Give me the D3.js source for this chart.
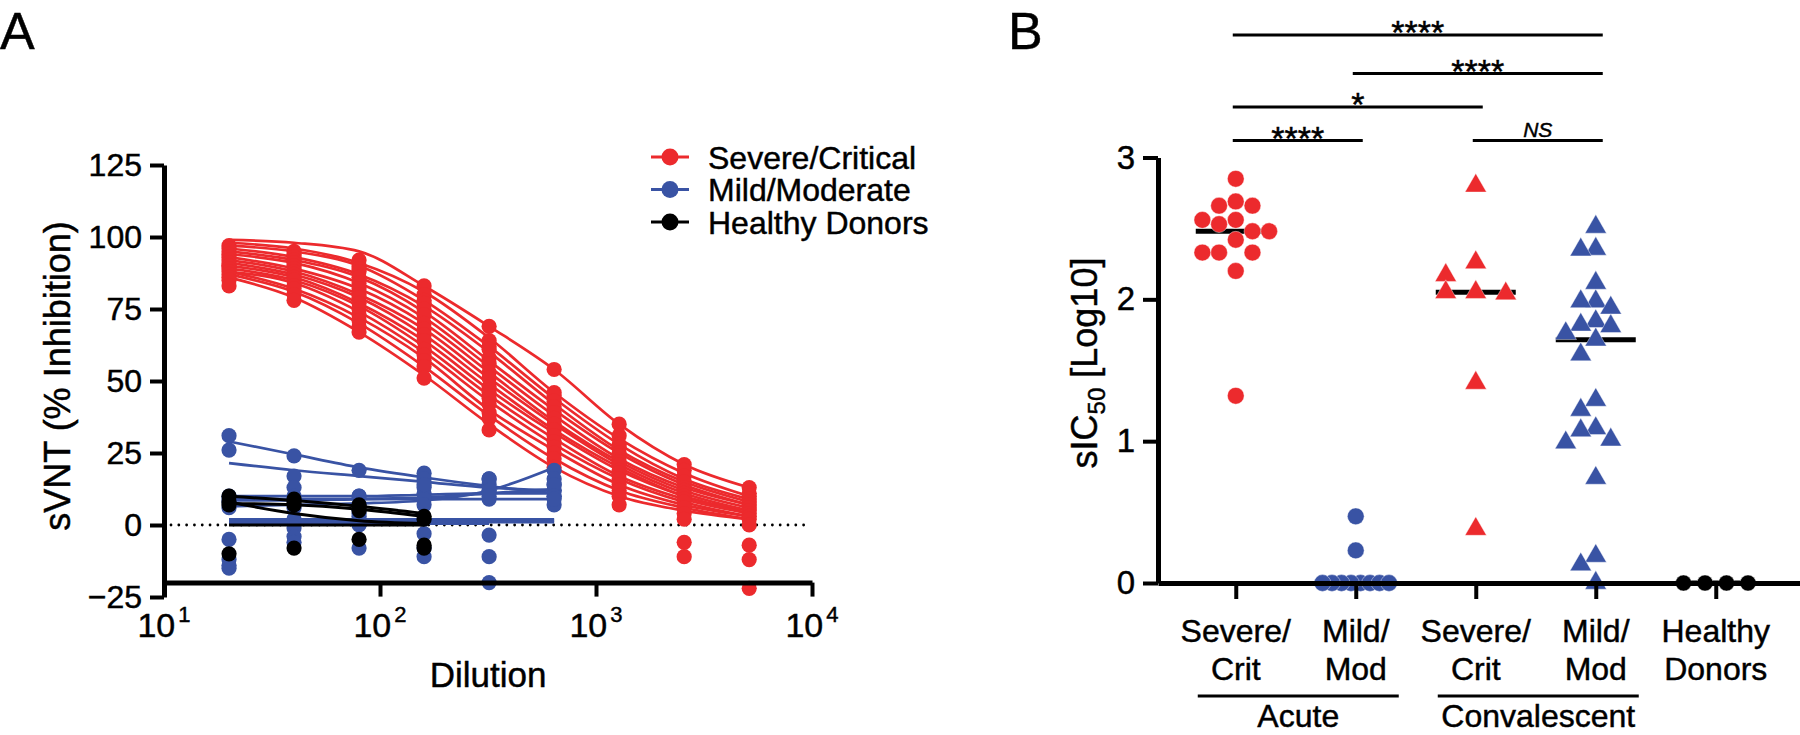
<!DOCTYPE html>
<html><head><meta charset="utf-8">
<script src="https://cdn.jsdelivr.net/npm/d3@7"></script>
<style>
html,body{margin:0;padding:0;background:#fff;}
svg text{font-family:"Liberation Sans",Arial,Helvetica,sans-serif;fill:#000;stroke:#000;stroke-width:0.45px;}
</style></head><body>
<svg id="chart" width="1800" height="735"></svg>
<script>
// ================= Panel A data =================
const dilutions = [20, 40, 80, 160, 320, 640, 1280, 2560, 5120];
const xTickExponents = [1, 2, 3, 4];
const yTicksA = [125, 100, 75, 50, 25, 0, -25];
const legendLabels = ["Severe/Critical", "Mild/Moderate", "Healthy Donors"];

// fitted curves (values at each dilution) – Severe/Critical
const severeFit = [
  [99, 98, 95, 83, 69, 54, 35, 21, 13],
  [98, 96, 91, 81, 65, 46, 30, 18, 10],
  [97, 95, 90, 78, 62, 44, 28, 16, 9],
  [96, 93, 87, 76, 60, 42, 26, 15, 8],
  [95, 92, 86, 74, 57, 40, 25, 14, 7],
  [94, 91, 84, 72, 55, 38, 23, 13, 7],
  [93, 89, 82, 70, 53, 36, 22, 12, 6],
  [92, 88, 80, 68, 51, 35, 21, 11, 5],
  [91, 87, 79, 66, 49, 33, 20, 10, 5],
  [90, 86, 77, 64, 47, 32, 19, 10, 4],
  [89, 85, 76, 62, 45, 30, 17, 9, 4],
  [88, 84, 74, 60, 43, 28, 16, 8, 3],
  [88, 82, 72, 58, 40, 26, 14, 7, 3],
  [87, 81, 70, 55, 38, 23, 12, 6, 2],
  [86, 79, 67, 52, 35, 20, 10, 5, 2]
];
// measured points – Severe/Critical
const severePts = [
  [97, 95, 92, 83, 69, 54, 35, 21, 13],
  [96, 94, 90, 80, 64, 46, 31, 19, 11],
  [95, 93, 89, 78, 62, 45, 28, 17, 10],
  [94, 92, 88, 77, 61, 43, 27, 15, 9],
  [93, 91, 86, 75, 58, 41, 25, 13, 8],
  [92, 90, 84, 73, 56, 39, 24, 12, 7],
  [91, 89, 82, 70, 53, 37, 22, 11, 6],
  [90, 88, 80, 68, 51, 35, 21, 10, 5],
  [90, 87, 79, 66, 48, 33, 19, 9, 4],
  [89, 86, 77, 64, 46, 31, 18, 8, 3],
  [88, 85, 75, 61, 44, 29, 16, 6, 2],
  [87, 83, 73, 59, 42, 27, 14, 4, 0],
  [86, 82, 71, 57, 39, 25, 12, 2, -7],
  [85, 80, 69, 55, 37, 23, 10, -6, -12],
  [83, 78, 67, 51, 33, 20, 7, -11, -22]
];
// Mild/Moderate (dilutions 20..640)
const mildFit = [
  [29, 24.5, 20, 16.5, 13.5, 11],
  [21.5, 19, 17, 15, 13, 12],
  [10, 10, 10, 10.5, 11, 11],
  [6.5, 7, 7.5, 8.5, 12, 20],
  [8.5, 8.5, 9, 9.5, 11, 12.5],
  [2, 2, 2, 2, 2, 2],
  [1.5, 1.5, 1.5, 1.5, 1.5, 1.5],
  [0.5, 0.5, 0.5, 0.5, 0.5],
  [1, 1, 1, 1, 1, 1],
  [9, 9, 9, 9, 9, 9]
];
const mildPts = [
  [31, 24, 19, 18, 16, 14],
  [26, 17, 10, 16, 14, 12],
  [10, 13, 10, 13, 12, 10],
  [8, 10, 7, 11, 9, 19],
  [6, 9, 4, 9, 16, 16],
  [-5, 2, 2, 7, 12, 7],
  [-12, -1, -8, -3, -3.5, 12],
  [-15, -4, 0, -8, -11, 14],
  [-14, -6, 5, -11, -20, 10],
  [9, 6, 3, 14, 10, 9]
];
// Healthy donors (dilutions 20..160)
const healthyFit = [
  [10, 8.5, 6.5, 4],
  [8, 4, 1.5, 0.5],
  [0, 0, 0, 0],
  [7.5, 7, 5.5, 3]
];
const healthyPts = [
  [10, 8, 7, 3],
  [8, 7, 6, -7],
  [-10, -8, -5, -8],
  [7, 9, 5, 2]
];

// ================= Panel B data =================
const catLine1 = ["Severe/", "Mild/", "Severe/", "Mild/", "Healthy"];
const catLine2 = ["Crit", "Mod", "Crit", "Mod", "Donors"];
const timepoints = ["Acute", "Convalescent"];
const yTicksB = [0, 1, 2, 3];
const acuteSevere = [2.85, 2.69, 2.66, 2.66, 2.56, 2.56, 2.53, 2.48, 2.48, 2.42, 2.33, 2.33, 2.33, 2.2, 1.32];
const acuteMild = [0.47, 0.23, 0, 0, 0, 0, 0, 0, 0, 0];
const convSevere = [2.80, 2.26, 2.17, 2.05, 2.05, 2.04, 1.41, 0.38];
const convMild = [2.51, 2.355, 2.35, 2.115, 1.985, 1.985, 1.94, 1.845, 1.82, 1.81, 1.76, 1.715, 1.61,
                  1.29, 1.22, 1.09, 1.075, 1.01, 0.99, 0.74, 0.19, 0.13, 0];
const healthyIC50 = [0, 0, 0, 0];
const comparisons = [[0, 3, "****"], [1, 3, "****"], [0, 2, "*"], [0, 1, "****"], [2, 3, "NS"]];

// ================= Drawing =================
const RED = "#EC2A2D", BLUE = "#3953A4", BLACK = "#000";
const svg = d3.select("#chart");

function styleAxis(g, fs) {
  g.attr("font-size", fs).attr("font-family", '"Liberation Sans", Arial, sans-serif');
  g.select(".domain").attr("stroke-width", 5).attr("stroke", "#000");
  g.selectAll(".tick line").attr("stroke-width", 4).attr("stroke", "#000");
  g.selectAll(".tick text").attr("fill", "#000");
}

// ---------- Panel A ----------
const xA = d3.scaleLog().domain([10, 10000]).range([164, 812]);
const yA = d3.scaleLinear().domain([-25, 125]).range([597, 165]);
const gA = svg.append("g");

gA.append("text").attr("x", 0).attr("y", 49).attr("font-size", 52).text("A");

gA.append("line")
  .attr("x1", xA(10) + 7).attr("x2", xA(10000) - 6)
  .attr("y1", yA(0)).attr("y2", yA(0))
  .attr("stroke", "#000").attr("stroke-width", 2.8)
  .attr("stroke-linecap", "round").attr("stroke-dasharray", "0.01 7.8");

function drawSet(fits, pts, color, lw, r) {
  const g = gA.append("g");
  const line = d3.line().x((d, i) => xA(dilutions[i])).y(d => yA(d)).curve(d3.curveMonotoneX);
  g.selectAll("path.fit").data(fits).join("path").attr("class", "fit")
    .attr("d", line).attr("fill", "none").attr("stroke", color).attr("stroke-width", lw);
  g.selectAll("g.pts").data(pts).join("g").attr("class", "pts")
    .selectAll("circle").data(d => d).join("circle")
    .attr("cx", (d, i) => xA(dilutions[i])).attr("cy", d => yA(d))
    .attr("r", r).attr("fill", color);
}
drawSet(severeFit, severePts, RED, 2.7, 7.6);
drawSet(mildFit, mildPts, BLUE, 2.7, 7.6);
drawSet(healthyFit, healthyPts, BLACK, 3, 7.6);

const yAxisA = d3.axisLeft(yA).tickValues(yTicksA).tickSize(14).tickSizeOuter(0).tickPadding(8);
gA.append("g").attr("transform", `translate(${xA(10)},0)`).call(yAxisA).call(g => styleAxis(g, 32));

const xAxisA = d3.axisBottom(xA).tickValues(xTickExponents.map(e => Math.pow(10, e)))
  .tickSize(14).tickSizeOuter(0).tickFormat("");
gA.append("g").attr("transform", `translate(0,${yA(-20)})`).call(xAxisA).call(g => styleAxis(g, 32));

const xl = gA.append("g").selectAll("text").data(xTickExponents).join("text")
  .attr("x", e => xA(Math.pow(10, e))).attr("y", 637)
  .attr("text-anchor", "middle").attr("font-size", 34);
xl.append("tspan").text("10");
xl.append("tspan").attr("dy", -15).attr("font-size", 22).attr("dx", 3).text(e => e);

gA.append("text").attr("x", (xA(10) + xA(10000)) / 2).attr("y", 687)
  .attr("text-anchor", "middle").attr("font-size", 35).text("Dilution");
gA.append("text").attr("transform", "translate(70,376) rotate(-90)")
  .attr("text-anchor", "middle").attr("font-size", 36).text("sVNT (% Inhibition)");

// legend
const legColors = [RED, BLUE, BLACK];
const leg = gA.append("g").selectAll("g").data(legendLabels).join("g")
  .attr("transform", (d, i) => `translate(0,${157 + i * 32.5})`);
leg.append("line").attr("x1", 651).attr("x2", 689).attr("stroke", (d, i) => legColors[i]).attr("stroke-width", 3);
leg.append("circle").attr("cx", 670).attr("r", 8.5).attr("fill", (d, i) => legColors[i]);
leg.append("text").attr("x", 708).attr("dy", "0.36em").attr("font-size", 32).text(d => d);

// ---------- Panel B ----------
const gB = svg.append("g");
gB.append("text").attr("x", 1008).attr("y", 49).attr("font-size", 52).text("B");

const xB = d3.scalePoint().domain(d3.range(5)).range([1158, 1800]).padding(0.675).align(0.48);
const yB = d3.scaleLinear().domain([0, 3]).range([583, 157.5]);

const groupsB = [
  {vals: acuteSevere, color: RED, shape: "circle", step: 16.7},
  {vals: acuteMild, color: BLUE, shape: "circle", step: 9.5},
  {vals: convSevere, color: RED, shape: "triangle", step: 30},
  {vals: convMild, color: BLUE, shape: "triangle", step: 15},
  {vals: healthyIC50, color: BLACK, shape: "circle", step: 21.5}
];

function swarm(vals, step, h) {
  const pts = vals.map((v, i) => ({v, i, y: yB(v)})).sort((a, b) => a.y - b.y);
  const placed = [];
  pts.forEach(p => {
    for (let k = 0; k < 40; k++) {
      const off = k === 0 ? 0 : (k % 2 ? -Math.ceil(k / 2) : Math.ceil(k / 2));
      const ok = placed.every(q => Math.abs(q.off - off) >= 0.99 || Math.abs(q.y - p.y) >= h);
      if (ok) { p.off = off; break; }
    }
    placed.push(p);
  });
  // centre rows of 4+ identical values
  d3.groups(pts, p => p.v).forEach(([v, arr]) => {
    if (arr.length >= 4) {
      const m = d3.mean(arr, p => p.off);
      arr.forEach(p => p.off -= m);
    }
  });
  pts.forEach(p => p.dx = p.off * step);
  return pts;
}

// median lines
gB.append("g").selectAll("line").data(groupsB).join("line")
  .attr("x1", (d, i) => xB(i) - 40).attr("x2", (d, i) => xB(i) + 40)
  .attr("y1", d => yB(d3.median(d.vals))).attr("y2", d => yB(d3.median(d.vals)))
  .attr("stroke", "#000").attr("stroke-width", 5);

const triSym = d3.symbol(d3.symbolTriangle, 200);
groupsB.forEach((grp, gi) => {
  const pts = swarm(grp.vals, grp.step, grp.shape === "circle" ? 16.4 : 17);
  const g = gB.append("g");
  if (grp.shape === "circle") {
    g.selectAll("circle").data(pts).join("circle")
      .attr("cx", p => xB(gi) + p.dx).attr("cy", p => p.y)
      .attr("r", gi === 4 ? 8 : 8.4).attr("fill", grp.color)
      .attr("stroke", "#fff").attr("stroke-width", 0.7).attr("stroke-opacity", 0.6);
  } else {
    g.selectAll("path").data(pts).join("path")
      .attr("d", triSym).attr("transform", p => `translate(${xB(gi) + p.dx},${p.y})`)
      .attr("fill", grp.color).attr("stroke", "#fff").attr("stroke-width", 0.7).attr("stroke-opacity", 0.6);
  }
});

const yAxisB = d3.axisLeft(yB).tickValues(yTicksB).tickSize(15).tickSizeOuter(0).tickPadding(8).tickFormat(d3.format("d"));
gB.append("g").attr("transform", `translate(1158,0)`).call(yAxisB).call(g => styleAxis(g, 33));
const xAxisB = d3.axisBottom(xB).tickSize(16).tickSizeOuter(0).tickFormat("");
gB.append("g").attr("transform", `translate(0,${yB(0)})`).call(xAxisB).call(g => styleAxis(g, 32));

// category labels
const cl = gB.append("g").selectAll("text").data(d3.range(5)).join("text")
  .attr("text-anchor", "middle").attr("font-size", 32);
cl.append("tspan").attr("x", i => xB(i)).attr("y", 642).text(i => catLine1[i]);
cl.append("tspan").attr("x", i => xB(i)).attr("y", 680).text(i => catLine2[i]);

// timepoint underlines
timepoints.forEach((t, k) => {
  const a = xB(2 * k) - 38, b = xB(2 * k + 1) + 43;
  gB.append("line").attr("x1", a).attr("x2", b).attr("y1", 696).attr("y2", 696)
    .attr("stroke", "#000").attr("stroke-width", 3);
  gB.append("text").attr("x", (a + b) / 2).attr("y", 727).attr("text-anchor", "middle")
    .attr("font-size", 32).text(t);
});

// y label
const yl = gB.append("text").attr("transform", "translate(1097,363) rotate(-90)")
  .attr("text-anchor", "middle").attr("font-size", 36);
yl.append("tspan").text("sIC");
yl.append("tspan").attr("font-size", 24).attr("dy", 8).text("50");
yl.append("tspan").attr("dy", -8).text(" [Log10]");

// significance bars
const tierY = [35, 73.5, 107, 140.5, 140.5];
comparisons.forEach(([i, j, lab], k) => {
  const a = xB(i) - 3, b = xB(j) + 7, y = tierY[k];
  gB.append("line").attr("x1", a).attr("x2", b).attr("y1", y).attr("y2", y)
    .attr("stroke", "#000").attr("stroke-width", 3);
  if (lab === "NS") {
    gB.append("text").attr("x", (a + b) / 2).attr("y", y - 4).attr("text-anchor", "middle")
      .attr("font-size", 21).attr("font-style", "italic").attr("stroke-width", 0.3).text(lab);
  } else {
    gB.append("text").attr("x", (a + b) / 2).attr("y", y + 9).attr("text-anchor", "middle")
      .attr("font-size", 34).text(lab);
  }
});
</script>
</body></html>
